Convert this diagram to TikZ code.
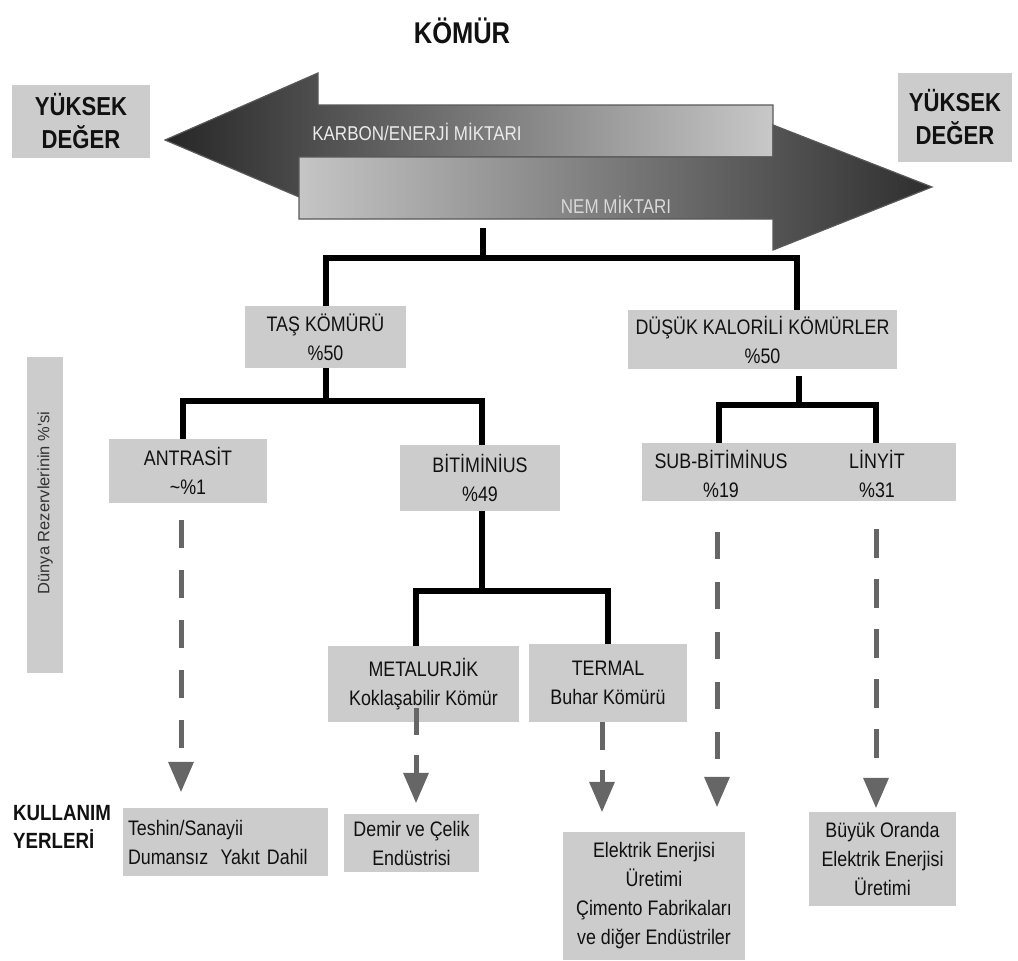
\documentclass[tikz,border=0pt]{standalone}
\usepackage{fontspec}
\setmainfont{Liberation Sans}[FakeStretch=0.85]
\newfontfamily\plainsans{Liberation Sans}
\usetikzlibrary{arrows.meta,calc}
\definecolor{boxgray}{HTML}{CCCCCC}
\definecolor{usegray}{HTML}{666666}
\definecolor{ink}{HTML}{111111}
\definecolor{darkend}{HTML}{262626}
\definecolor{lightend}{HTML}{C8C8C8}
\begin{document}
\begin{tikzpicture}[x=1pt,y=-1pt,
  box/.style={fill=boxgray, inner sep=0pt, align=center, text=ink,
    font=\fontsize{21}{29}\selectfont},
  plain/.style={inner sep=0pt, align=center, text=ink,
    font=\fontsize{21}{29}\selectfont},
  head/.style={inner sep=0pt, align=center, text=ink,
    font=\fontsize{26}{33}\selectfont\bfseries},
  tree/.style={line width=6pt, line join=miter},
  usearrow/.style={draw=usegray, line width=5pt,
    -{Triangle[width=26pt,length=30pt,line width=0pt]}},
  shaftline/.style={draw=black!65, line width=1.2pt, line join=miter},
]
\useasboundingbox (0,0) rectangle (1018,961);

% title
\node[head, font=\fontsize{30}{36}\selectfont\bfseries] (title) at (462,31) {KÖMÜR};

% value boxes at both ends
\node[box, head, fill=boxgray, minimum width=138pt, minimum height=73pt] (lhi) at (81,121.5) {YÜKSEK\\DEĞER};
\node[box, head, fill=boxgray, minimum width=114pt, minimum height=89pt] (rhi) at (955,117.5) {YÜKSEK\\DEĞER};

% carbon / energy arrow (pointing left)
\shadedraw[shaftline, left color=darkend, right color=lightend]
  (773,105) -- (318,105) -- (318,73) -- (165,140) -- (318,205)
  -- (318,157) -- (773,157) -- cycle;
% moisture arrow (pointing right)
\shadedraw[shaftline, left color=lightend!105, right color=black!82]
  (299,157) -- (773,157) -- (773,125) -- (932,187) -- (773,250)
  -- (773,219) -- (299,219) -- cycle;
\node[inner sep=0pt, text=black!8, font=\fontsize{20}{24}\selectfont] (karbon) at (417,132) {KARBON/ENERJİ MİKTARI};
\node[inner sep=0pt, text=black!15, font=\fontsize{20}{24}\selectfont] (nem) at (616,205) {NEM MİKTARI};

% reserve share label
\node[box, rotate=90, minimum width=316pt, minimum height=36pt,
  text=black!80, font=\plainsans\fontsize{16.5}{19}\selectfont] (dunya) at (45,515)
  {\hspace*{24pt}Dünya Rezervlerinin \%'si};

% coal classes
\node[box, minimum width=161pt, minimum height=62pt] (tas) at (325.5,337) {TAŞ KÖMÜRÜ\\\%50};
\node[box, minimum width=269pt, minimum height=59pt] (duk) at (762.5,339.5) {DÜŞÜK KALORİLİ KÖMÜRLER\\\%50};
\node[box, minimum width=158pt, minimum height=64pt] (antr) at (188,471) {ANTRASİT\\\textasciitilde\%1};
\node[box, minimum width=160pt, minimum height=66pt] (bit) at (480,478) {BİTİMİNİUS\\\%49};
\node[box, minimum width=314pt, minimum height=58pt] (subl) at (799,472) {};
\node[plain] (sub) at (721,474) {SUB-BİTİMİNUS\\\%19};
\node[plain] (lin) at (877,474) {LİNYİT\\\%31};
\node[box, minimum width=191pt, minimum height=76pt] (metal) at (423.5,684) {METALURJİK\\Koklaşabilir Kömür};
\node[box, minimum width=158pt, minimum height=78pt] (term) at (608,683) {TERMAL\\Buhar Kömürü};

% uses
\node[head, font=\fontsize{22}{28}\selectfont\bfseries, anchor=west, align=left] (kull) at (13,827) {KULLANIM\\YERLERİ};
\node[box, text width=195pt, inner xsep=5pt, align=left, minimum height=68pt] (teshin) at (225.5,842)
  {Teshin/Sanayii\\Dumansız\hspace{0.25em} Yakıt Dahil};
\node[box, minimum width=135pt, minimum height=58pt] (demir) at (411.5,843) {Demir ve Çelik\\Endüstrisi};
\node[box, minimum width=182pt, minimum height=128pt] (elek) at (654,896)
  {Elektrik Enerjisi\\Üretimi\\Çimento Fabrikaları\\ve diğer Endüstriler};
\node[box, minimum width=147pt, minimum height=94pt] (buyuk) at (882.5,859)
  {Büyük Oranda\\Elektrik Enerjisi\\Üretimi};

% tree junctions and columns
\coordinate (stem) at (483,228);
\coordinate (j0) at (483,258);
\coordinate (cD) at (797,0);
\coordinate (j1) at (325.5,401);
\coordinate (cAt) at (183,0);
\coordinate (cBt) at (482,0);
\coordinate (j2) at (799,405);
\coordinate (j3) at (482,591);
\coordinate (cMt) at (416,0);
\coordinate (cTt) at (608,0);

\draw[tree] (stem) -- (j0);
\draw[tree] (tas.north) |- (j0) -| (duk.north -| cD);
\draw[tree] (tas.south) -- (j1);
\draw[tree] (antr.north -| cAt) |- (j1) -| (bit.north -| cBt);
\draw[tree] ($(duk.south -| j2)+(0,7)$) -- (j2);
\draw[tree] (subl.north -| 719,0) |- (j2) -| (subl.north -| 876,0);
\draw[tree] (bit.south -| j3) -- (j3);
\draw[tree] (metal.north -| cMt) |- (j3) -| (term.north -| cTt);

% use arrows
\coordinate (cA) at (181,0);
\coordinate (cM) at (416,0);
\coordinate (cT) at (602,0);
\coordinate (cS) at (717,0);
\coordinate (cL) at (876,0);
\draw[usearrow, dash pattern=on 28pt off 22pt]
  ($(antr.south -| cA)+(0,17)$) -- ($(teshin.north -| cA)+(0,-16)$);
\draw[usearrow, dash pattern=on 27pt off 20pt]
  ($(metal.south -| cM)+(0,-14)$) -- ($(demir.north -| cM)+(0,-11)$);
\draw[usearrow, dash pattern=on 28pt off 20pt]
  (term.south -| cT) -- ($(elek.north -| cT)+(0,-20)$);
\draw[usearrow, dash pattern=on 27pt off 23pt]
  ($(subl.south -| cS)+(0,31)$) -- ($(elek.north -| cS)+(0,-25)$);
\draw[usearrow, dash pattern=on 29pt off 21pt]
  ($(subl.south -| cL)+(0,28)$) -- ($(buyuk.north -| cL)+(0,-4)$);
\end{tikzpicture}
\end{document}
